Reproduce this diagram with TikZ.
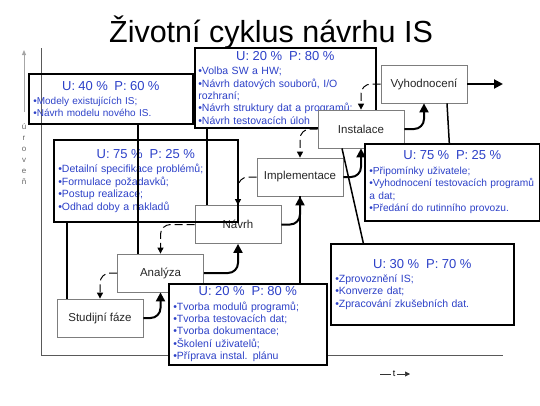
\documentclass[tikz,border=0pt]{standalone}
\usepackage{fontspec}
\setmainfont{Liberation Sans}
\usepackage{tikz}
\usetikzlibrary{arrows.meta}
\usepackage{xcolor}
\definecolor{modra}{RGB}{45,65,200}
\definecolor{seda}{RGB}{125,125,125}
\tikzstyle{infobox} = [draw=black, line width=1.6pt, anchor=north west, inner xsep=4pt, inner ysep=1pt, align=left, text=modra, font=\fontsize{10.5}{12.4}\selectfont]
\tikzstyle{faze} = [draw=seda, fill=white, line width=0.8pt, minimum width=86pt, minimum height=38pt, font=\fontsize{11.5}{13}\selectfont, text=black!85]
\tikzstyle{vazba} = [line width=1.5pt]
\tikzstyle{dopredu} = [line width=2pt, rounded corners=10pt, -{Triangle[length=9pt,width=9pt]}]
\tikzstyle{zpet} = [line width=1pt, dash pattern=on 8pt off 4pt, rounded corners=10pt, -{Triangle[length=6pt,width=6pt]}]
\tikzstyle{osa} = [draw=black!65, line width=0.8pt]
\newcommand{\hlava}[2]{{\centering\fontsize{13}{15}\selectfont U: #1 \%\ \ P: #2 \%\par}\vspace{2pt}}

\begin{document}
\begin{tikzpicture}[x=1pt,y=-1pt]
\useasboundingbox (0,0) rectangle (540,405);
% nadpis
\node[anchor=base, font=\fontsize{30.5}{32}\selectfont] (nadpis) at (271,42) {Životní cyklus návrhu IS};
% osy
\coordinate (O) at (41,355);
\coordinate (osay) at (41,48);
\coordinate (osax) at (503,355);
\draw[osa] (osay) -- (O) -- (osax);
\coordinate (s0) at (24,112);
\coordinate (s1) at (24,50);
\draw[black!35, line width=1pt, -{Triangle[length=5pt,width=4pt]}] (s0) -- (s1);
\foreach \p [count=\i] in {ú,r,o,v,e,ň}
  \node[text=black!60, font=\fontsize{8}{8}\selectfont, inner sep=0pt] (u\i) at (24,{116+11*\i}) {\p};
\node[font=\fontsize{9}{9}\selectfont, inner sep=1.5pt] (t) at (394,374) {t};
\coordinate (t0) at (380,374);
\coordinate (t1) at (410,374);
\draw[black!80, line width=0.6pt] (t0) -- (t.west);
\draw[black!80, line width=0.6pt, -{Triangle[length=5pt,width=5pt]}] (t.east) -- (t1);

% horni boxy
\node[infobox, font=\fontsize{10}{12}\selectfont, minimum width=164pt, minimum height=50pt, text width=155pt] (u40) at (28,73)
  {\hlava{40}{60}•Modely existujících IS;\\•Návrh modelu nového IS.};
\node[infobox, fill=white, minimum width=181pt, minimum height=80pt, inner xsep=3pt, text width=174pt] (u20h) at (194,47)
  {\hlava{20}{80}•Volba SW a HW;\\•Návrh datových souborů, I/O\\rozhraní;\\•Návrh struktury dat a programů;\\•Návrh testovacích úloh};

% faze
\node[faze] (studie) at (100,318) {Studijní fáze};
\node[faze] (analyza) at (160.5,273) {Analýza};
\node[faze] (navrh) at (238,224.5) {Návrh};
\node[faze] (impl) at (300,177) {Implementace};
\node[faze] (instal) at (361,129) {Instalace};
\node[faze] (vyhod) at (424,84) {Vyhodnocení};
\coordinate (konec) at (503,84);

% ostatni boxy
\node[infobox, minimum width=184pt, minimum height=82pt, text width=175pt] (u75l) at (53,139)
  {\hlava{75}{25}•Detailní specifikace problémů;\\•Formulace požadavků;\\•Postup realizace;\\•Odhad doby a nakladů};
\node[infobox, fill=white, font=\fontsize{10.2}{12.4}\selectfont, minimum width=175pt, minimum height=77pt, text width=166pt] (u75r) at (364,143)
  {\hlava{75}{25}•Připomínky uživatele;\\\mbox{•Vyhodnocení testovacích programů}\\a dat;\\•Předání do rutinního provozu.};
\node[infobox, fill=white, minimum width=183pt, minimum height=81pt, text width=174pt] (u30) at (330,243)
  {\hlava{30}{70}•Zprovoznění IS;\\•Konverze dat;\\•Zpracování zkušebních dat.};
\node[infobox, fill=white, minimum width=158pt, minimum height=81pt, text width=149pt] (u20d) at (168,283)
  {\hlava{20}{80}•Tvorba modulů programů;\\•Tvorba testovacích dat;\\•Tvorba dokumentace;\\•Školení uživatelů;\\•Příprava instal. plánu};

% spoje boxu k fazim
\draw[vazba] ([xshift=-33pt]studie.north) -- ([xshift=-33pt]studie.north |- u75l.south);
\draw[vazba] ([xshift=-22.5pt]analyza.north) -- ([xshift=-22.5pt]analyza.north |- u40.south);
\draw[vazba] ([xshift=-31pt]navrh.north) -- ([xshift=-31pt]navrh.north |- u20h.south);
\draw[vazba] (impl.south) -- (impl.south |- u20d.north);
\draw[vazba] ([xshift=-19pt]instal.south) -- ([xshift=-59pt]u30.north);
\draw[vazba] ([xshift=23pt]vyhod.south) -- ([xshift=-3pt]u75r.north);

% sipky dopredu
\draw[dopredu] (studie.east) -| (analyza.south);
\draw[dopredu] (analyza.east) -| (navrh.south);
\draw[dopredu] (navrh.east) -| (impl.south);
\draw[dopredu] (impl.east) -| (instal.south);
\draw[dopredu] (instal.east) -| (vyhod.south);
\draw[dopredu] (vyhod.east) -- (konec);

% sipky zpet
\draw[zpet] (analyza.west) -| (studie.north);
\draw[zpet] (navrh.west) -| (analyza.north);
\draw[zpet] (impl.west) -| (navrh.north);
\draw[zpet] (instal.west) -| (impl.north);
\draw[zpet] (vyhod.west) -| (instal.north);
\end{tikzpicture}
\end{document}
